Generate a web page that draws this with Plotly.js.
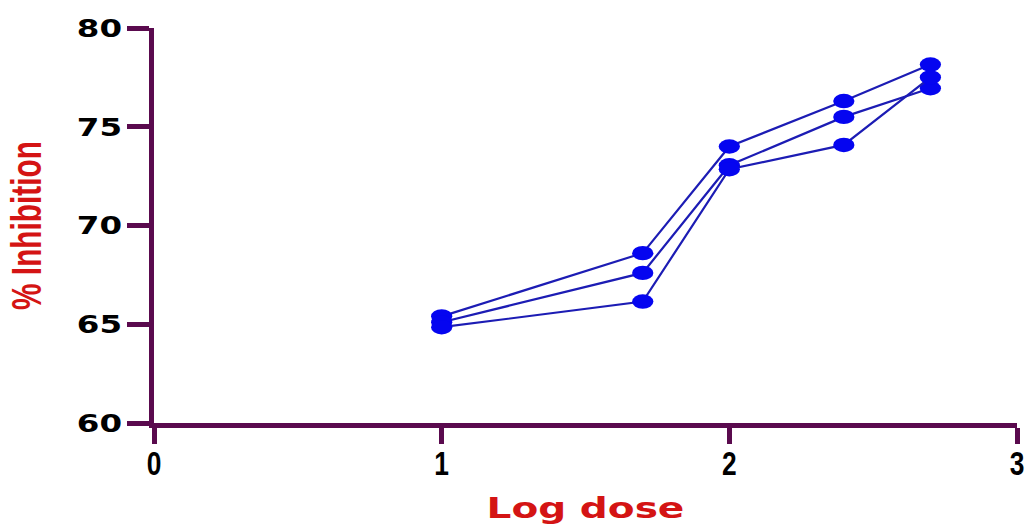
<!DOCTYPE html>
<html>
<head>
<meta charset="utf-8">
<script src="https://cdn.plot.ly/plotly-3.0.1.min.js"></script>
<style>html,body{margin:0;padding:0;background:#fff;}#chart{width:1030px;height:524px;}</style>
</head>
<body>
<div id="chart"></div>
<script>
var logDose = [1, 1.699, 2, 2.398, 2.699];
var seriesA = [65.4, 68.6, 74.0, 76.3, 78.15];
var seriesB = [65.1, 67.6, 73.05, 75.5, 76.95];
var seriesC = [64.85, 66.15, 72.85, 74.08, 77.5];
var xTicks = [0, 1, 2, 3];
var yTicks = [60, 65, 70, 75, 80];

var axisColor = '#5a0a4e';
function mk(y) {
  return {
    x: logDose, y: y, type: 'scatter', mode: 'lines+markers',
    line: {color: '#1c1cb4', width: 2.2},
    marker: {color: '#0505f0', size: 17},
    showlegend: false, hoverinfo: 'none', cliponaxis: false
  };
}
var data = [mk(seriesA), mk(seriesB), mk(seriesC)];
var layout = {
  width: 1030, height: 524,
  margin: {l: 154, r: 13, t: 28, b: 101},
  paper_bgcolor: '#fff', plot_bgcolor: '#fff',
  xaxis: {
    range: [0, 3], tickvals: xTicks, ticktext: xTicks.map(String),
    showgrid: false, zeroline: false, showline: true,
    linecolor: axisColor, linewidth: 5,
    ticks: 'outside', ticklen: 16, tickwidth: 5, tickcolor: axisColor,
    ticklabelstandoff: -8,
    tickfont: {family: 'Liberation Sans, Arial, sans-serif', size: 31, color: '#000', weight: 'bold'},
    title: {text: 'Log dose', font: {family: 'DejaVu Sans, sans-serif', size: 27.5, color: '#d41414', weight: 'bold'}, standoff: 22}
  },
  yaxis: {
    range: [60, 80], tickvals: yTicks, ticktext: yTicks.map(String),
    showgrid: false, zeroline: false, showline: true,
    linecolor: axisColor, linewidth: 5,
    ticks: 'outside', ticklen: 22, tickwidth: 5, tickcolor: axisColor,
    tickfont: {family: 'DejaVu Sans, sans-serif', size: 25, color: '#000', weight: 'bold'},
    title: {text: '% Inhibition', font: {family: 'Liberation Sans, Arial, sans-serif', size: 42, color: '#d41414', weight: 'bold'}, standoff: 34}
  }
};

function scaleEl(el, sx, sy, ax, ay) {
  var b = el.getBBox();
  var cx = b.x + ax * b.width, cy = b.y + ay * b.height;
  var t = el.getAttribute('transform') || '';
  el.setAttribute('transform', t + ' translate(' + cx + ',' + cy + ') scale(' + sx + ',' + sy + ') translate(' + (-cx) + ',' + (-cy) + ')');
}

Plotly.newPlot('chart', data, layout, {displayModeBar: false, staticPlot: true}).then(function (gd) {
  gd.querySelectorAll('.ytick text').forEach(function (el) { scaleEl(el, 1.3, 1, 1, 0.5); });
  gd.querySelectorAll('.xtick text').forEach(function (el) { scaleEl(el, 0.85, 1.1, 0.5, 0.2); });
  var xt = gd.querySelector('.xtitle'); if (xt) scaleEl(xt, 1.42, 1, 0.5, 0.5);
  var yt = gd.querySelector('.ytitle'); if (yt) scaleEl(yt, 0.71, 1, 0.5, 0.5);
  gd.querySelectorAll('.scatterlayer path.point').forEach(function (el) {
    el.setAttribute('transform', (el.getAttribute('transform') || '') + ' scale(1.25,0.85)');
  });
});
</script>
</body>
</html>
